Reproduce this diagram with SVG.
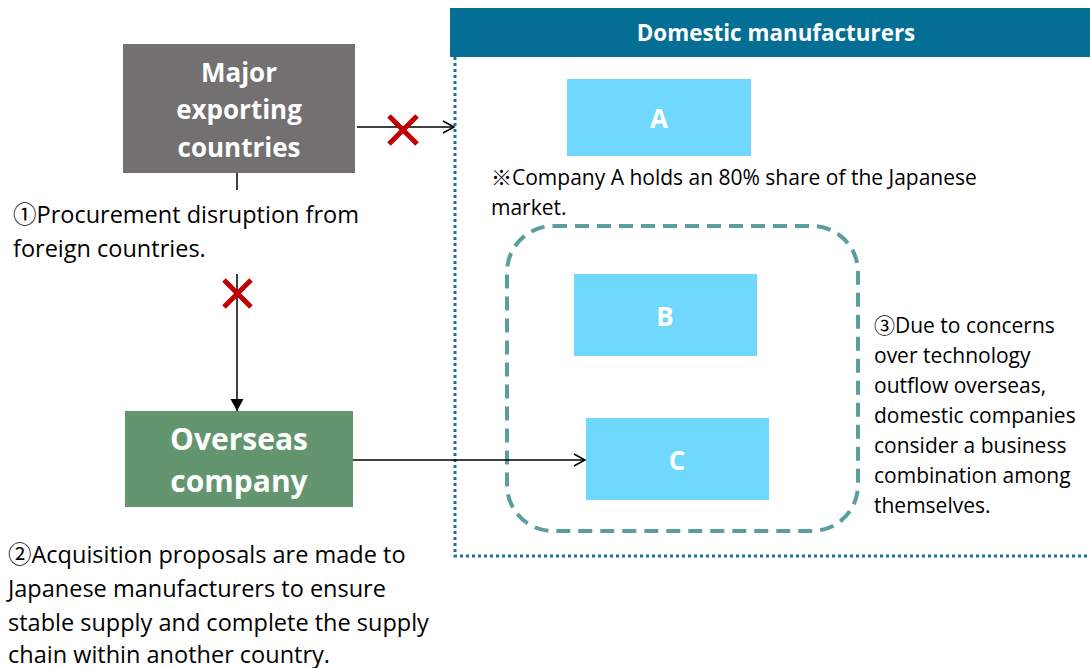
<svg xmlns="http://www.w3.org/2000/svg" width="1090" height="668" viewBox="0 0 1090 668">
<style>
text{font-family:"Open Sans","Noto Sans CJK JP",sans-serif}
.w{fill:#fff;font-weight:bold;text-anchor:middle}
.t{fill:#000;font-size:23.5px}
.s{fill:#000;font-size:21px}
.co{fill:#6FD8FC}
.ln{stroke:#000;stroke-width:1.5;fill:none}
.x{stroke:#C00000;stroke-width:5;fill:none}
</style>
<defs>
<marker id="open" markerWidth="14" markerHeight="14" refX="12" refY="7" orient="auto" markerUnits="userSpaceOnUse">
<path d="M1,1 L12,7 L1,13" fill="none" stroke="#000" stroke-width="1.5"/>
</marker>
<marker id="tri" markerWidth="14" markerHeight="14" refX="12" refY="7" orient="auto" markerUnits="userSpaceOnUse">
<path d="M0,0.5 L12,7 L0,13.5 Z" fill="#000"/>
</marker>
</defs>
<rect width="1090" height="668" fill="#fff"/>

<g id="domestic">
<rect x="450" y="8" width="640" height="49" fill="#046E94"/>
<text class="w" x="776" y="41" font-size="22.4">Domestic manufacturers</text>
<path d="M455,57 V556 H1090" fill="none" stroke="#1F6F98" stroke-width="3" stroke-dasharray="3,3"/>
</g>

<g id="group-bc">
<rect x="507" y="226" width="351" height="305" rx="46" ry="46" fill="none" stroke="#5B9EA0" stroke-width="4" stroke-dasharray="14,8"/>
</g>

<g id="connectors">
<line class="ln" x1="237" y1="173" x2="237" y2="190"/>
<line class="ln" x1="237" y1="274" x2="237" y2="411" marker-end="url(#tri)"/>
<line class="ln" x1="357" y1="127" x2="454" y2="127" marker-end="url(#open)"/>
<line class="ln" x1="353" y1="460" x2="585" y2="460" marker-end="url(#open)"/>
<path class="x" d="M389,116 L417,144 M417,116 L389,144"/>
<path class="x" d="M224,280 L251,307 M251,280 L224,307"/>
</g>

<g id="major">
<rect x="123" y="44" width="232" height="129" fill="#727071"/>
<text class="w" font-size="26"><tspan x="239" y="82">Major</tspan><tspan x="239" y="119">exporting</tspan><tspan x="239" y="157">countries</tspan></text>
</g>

<g id="overseas">
<rect x="125" y="411" width="228" height="96" fill="#63956F"/>
<text class="w" font-size="30"><tspan x="239" y="450">Overseas</tspan><tspan x="239" y="492">company</tspan></text>
</g>

<g id="company-a">
<rect class="co" x="567" y="79" width="184" height="77"/>
<text class="w" x="659" y="128" font-size="26">A</text>
</g>
<g id="company-b">
<rect class="co" x="574" y="274" width="183" height="82"/>
<text class="w" x="665" y="326" font-size="26">B</text>
</g>
<g id="company-c">
<rect class="co" x="586" y="418" width="183" height="82"/>
<text class="w" x="677" y="470" font-size="26">C</text>
</g>

<g id="notes">
<text class="t"><tspan x="13" y="223">①Procurement disruption from</tspan><tspan x="13" y="257">foreign countries.</tspan></text>
<text class="s" font-size="21.8"><tspan x="491" y="185">※Company A holds an 80% share of the Japanese</tspan><tspan x="491" y="215">market.</tspan></text>
<text class="s"><tspan x="874" y="333">③Due to concerns</tspan><tspan x="874" y="363">over technology</tspan><tspan x="874" y="393">outflow overseas,</tspan><tspan x="874" y="423">domestic companies</tspan><tspan x="874" y="453">consider a business</tspan><tspan x="874" y="483">combination among</tspan><tspan x="874" y="513">themselves.</tspan></text>
<text class="t"><tspan x="8" y="563">②Acquisition proposals are made to</tspan><tspan x="8" y="597">Japanese manufacturers to ensure</tspan><tspan x="8" y="631">stable supply and complete the supply</tspan><tspan x="8" y="663">chain within another country.</tspan></text>
</g>
</svg>
